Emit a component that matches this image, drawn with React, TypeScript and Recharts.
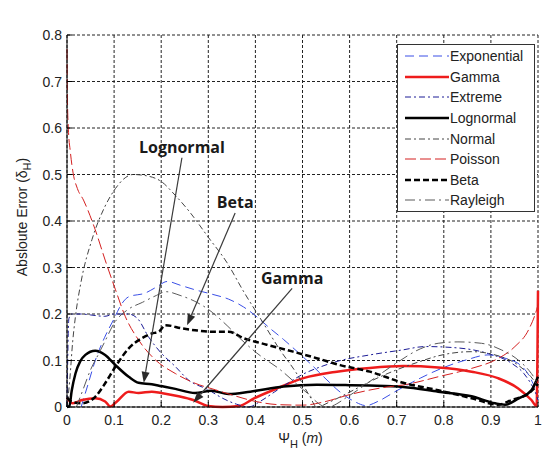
import React from 'react';
import { LineChart, Line, XAxis, YAxis, CartesianGrid, Legend, ReferenceLine, ReferenceDot } from 'recharts';

// ---------- data ----------
const xTicks = [0, 0.1, 0.2, 0.3, 0.4, 0.5, 0.6, 0.7, 0.8, 0.9, 1];
const yTicks = [0, 0.1, 0.2, 0.3, 0.4, 0.5, 0.6, 0.7, 0.8];

const seriesNames = ['Exponential', 'Gamma', 'Extreme', 'Lognormal', 'Normal', 'Poisson', 'Beta', 'Rayleigh'];

const exponential: [number, number][] = [
  [0.03, 0], [0.045, 0.05], [0.06, 0.1], [0.08, 0.15], [0.1, 0.19], [0.115, 0.22], [0.131, 0.237],
  [0.166, 0.245], [0.19, 0.258], [0.213, 0.27], [0.24, 0.262], [0.272, 0.252], [0.31, 0.242],
  [0.343, 0.232], [0.375, 0.215], [0.403, 0.194], [0.43, 0.17], [0.46, 0.145], [0.49, 0.118],
  [0.52, 0.09], [0.55, 0.06], [0.58, 0.032], [0.61, 0.012], [0.635, 0.003], [0.66, 0.012],
  [0.7, 0.035], [0.75, 0.062], [0.8, 0.085], [0.85, 0.102], [0.894, 0.112], [0.93, 0.105],
  [0.966, 0.087], [0.985, 0.06], [0.995, 0.035], [1, 0.015],
];
const gamma: [number, number][] = [
  [0, 0.02], [0.011, 0.008], [0.032, 0.015], [0.06, 0.019], [0.081, 0.012], [0.092, 0.001],
  [0.106, 0.012], [0.131, 0.033], [0.152, 0.03], [0.18, 0.033], [0.2, 0.03], [0.237, 0.023],
  [0.268, 0.015], [0.3, 0.002], [0.33, 0], [0.365, 0.002], [0.396, 0.018], [0.446, 0.04],
  [0.502, 0.062], [0.573, 0.076], [0.643, 0.084], [0.714, 0.088], [0.788, 0.085], [0.859, 0.076],
  [0.915, 0.062], [0.958, 0.04], [0.986, 0.015], [0.997, 0.002], [1, 0.25],
];
const extreme: [number, number][] = [
  [0, 0], [0.004, 0.19], [0.01, 0.2], [0.03, 0.2], [0.05, 0.198], [0.08, 0.195], [0.1, 0.2],
  [0.13, 0.2], [0.15, 0.19], [0.173, 0.151], [0.2, 0.116], [0.23, 0.087], [0.258, 0.058],
  [0.3, 0.037], [0.33, 0.019], [0.36, 0.006], [0.385, 0], [0.41, 0.012], [0.44, 0.032],
  [0.47, 0.052], [0.5, 0.07], [0.54, 0.087], [0.573, 0.098], [0.643, 0.112], [0.714, 0.123],
  [0.76, 0.13], [0.83, 0.127], [0.894, 0.115], [0.944, 0.094], [0.97, 0.072], [0.985, 0.05],
  [0.995, 0.03], [1, 0.015],
];
const lognormal: [number, number][] = [
  [0, 0], [0.005, 0.002], [0.01, 0.035], [0.018, 0.072], [0.028, 0.098], [0.039, 0.112],
  [0.06, 0.121], [0.081, 0.112], [0.103, 0.09], [0.131, 0.065], [0.152, 0.052], [0.18, 0.049],
  [0.2, 0.045], [0.23, 0.039], [0.272, 0.03], [0.307, 0.035], [0.343, 0.028], [0.389, 0.033],
  [0.46, 0.044], [0.53, 0.048], [0.6, 0.047], [0.643, 0.046], [0.714, 0.043], [0.788, 0.033],
  [0.859, 0.023], [0.909, 0.008], [0.93, 0.005], [0.958, 0.018], [0.986, 0.036], [1, 0.065],
];
const normal: [number, number][] = [
  [0, 0], [0.006, 0.06], [0.012, 0.14], [0.018, 0.195], [0.03, 0.27], [0.053, 0.36], [0.08, 0.43],
  [0.103, 0.47], [0.12, 0.49], [0.14, 0.5], [0.17, 0.497], [0.2, 0.485], [0.23, 0.455],
  [0.26, 0.42], [0.3, 0.365], [0.34, 0.31], [0.374, 0.25], [0.417, 0.18], [0.452, 0.123],
  [0.487, 0.073], [0.516, 0.022], [0.53, 0], [0.56, 0.012], [0.6, 0.032], [0.65, 0.058],
  [0.7, 0.08], [0.75, 0.098], [0.788, 0.11], [0.859, 0.119], [0.909, 0.112], [0.958, 0.09],
  [0.985, 0.065], [1, 0.045],
];
const poisson: [number, number][] = [
  [0, 0.77], [0.001, 0.66], [0.003, 0.596], [0.007, 0.55], [0.013, 0.503], [0.022, 0.47],
  [0.035, 0.445], [0.06, 0.381], [0.081, 0.316], [0.103, 0.252], [0.124, 0.194], [0.152, 0.144],
  [0.188, 0.101], [0.23, 0.072], [0.272, 0.051], [0.315, 0.037], [0.35, 0.026], [0.4, 0.012],
  [0.45, 0.005], [0.5, 0.004], [0.55, 0.012], [0.594, 0.025], [0.679, 0.043], [0.718, 0.048],
  [0.788, 0.065], [0.859, 0.083], [0.909, 0.101], [0.951, 0.13], [0.98, 0.166], [0.997, 0.209],
  [1, 0.22],
];
const beta: [number, number][] = [
  [0, 0.02], [0.011, 0.011], [0.032, 0.008], [0.06, 0.022], [0.081, 0.051], [0.103, 0.087],
  [0.131, 0.126], [0.159, 0.148], [0.18, 0.158], [0.195, 0.162], [0.209, 0.176], [0.244, 0.169],
  [0.272, 0.165], [0.307, 0.162], [0.343, 0.162], [0.375, 0.148], [0.424, 0.134], [0.48, 0.119],
  [0.53, 0.105], [0.58, 0.09], [0.643, 0.076], [0.714, 0.052], [0.788, 0.036], [0.859, 0.019],
  [0.915, 0.005], [0.944, 0.015], [0.98, 0.029], [1, 0.05],
];
const rayleigh: [number, number][] = [
  [0.02, 0], [0.035, 0.04], [0.05, 0.08], [0.065, 0.11], [0.08, 0.14], [0.1, 0.18], [0.13, 0.21],
  [0.16, 0.225], [0.19, 0.24], [0.21, 0.248], [0.24, 0.24], [0.27, 0.228], [0.3, 0.21],
  [0.34, 0.175], [0.37, 0.145], [0.403, 0.116], [0.453, 0.08], [0.502, 0.037], [0.552, 0],
  [0.6, 0.025], [0.65, 0.06], [0.7, 0.095], [0.75, 0.125], [0.788, 0.137], [0.83, 0.14],
  [0.88, 0.137], [0.922, 0.123], [0.958, 0.101], [0.986, 0.072], [1, 0.05],
];

const seriesData = [exponential, gamma, extreme, lognormal, normal, poisson, beta, rayleigh];

// annotations (data coordinates)
const annotationLabels = ['Lognormal', 'Beta', 'Gamma'];
const annotationText: [number, number][] = [[0.244, 0.559], [0.357, 0.441], [0.478, 0.277]];
const annotationFrom: [number, number][] = [[0.244, 0.536], [0.357, 0.417], [0.478, 0.255]];
const annotationTo: [number, number][] = [[0.163, 0.052], [0.255, 0.176], [0.268, 0.009]];

// ---------- styles ----------
const FONT = '"Liberation Sans", Arial, Helvetica, sans-serif';
const seriesStyle: Record<string, { color: string; width: number; dash?: string }> = {
  Exponential: { color: '#3a4fe6', width: 1, dash: '9 5' },
  Gamma: { color: '#ee1c1c', width: 2.5 },
  Extreme: { color: '#1c1c96', width: 1, dash: '6 3 2 3' },
  Lognormal: { color: '#000000', width: 2.5 },
  Normal: { color: '#444444', width: 1, dash: '6 3 2 3' },
  Poisson: { color: '#d42020', width: 1, dash: '11 4' },
  Beta: { color: '#000000', width: 2.5, dash: '6 3' },
  Rayleigh: { color: '#5a5a5a', width: 1, dash: '10 4 2 4' },
};

const fmt = (v: number) => String(Math.round(v * 10) / 10);

const BottomTick = (p: any) => (
  <g>
    <line x1={p.x} y1={p.y} x2={p.x} y2={p.y - 5} stroke="#000" />
    <text x={p.x} y={p.y + 18} textAnchor="middle" fontSize={14} fontFamily={FONT} fill="#222">
      {fmt(p.payload.value)}
    </text>
  </g>
);
const LeftTick = (p: any) => (
  <g>
    <line x1={p.x} y1={p.y} x2={p.x + 5} y2={p.y} stroke="#000" />
    <text x={p.x - 5} y={p.y + 5} textAnchor="end" fontSize={14} fontFamily={FONT} fill="#222">
      {fmt(p.payload.value)}
    </text>
  </g>
);
const TopTick = (p: any) => <line x1={p.x} y1={p.y} x2={p.x} y2={p.y + 5} stroke="#000" />;
const RightTick = (p: any) => <line x1={p.x} y1={p.y} x2={p.x - 5} y2={p.y} stroke="#000" />;

const XLabel = (p: any) => {
  const vb = p.viewBox;
  const cx = vb.x + vb.width / 2 - 2;
  return (
    <text x={cx} y={443} textAnchor="middle" fontSize={14} fontFamily={FONT} fill="#222">
      Ψ<tspan fontSize={11} dy={5}>H</tspan>
      <tspan dy={-5}> (</tspan>
      <tspan fontStyle="italic">m</tspan>
      <tspan>)</tspan>
    </text>
  );
};
const YLabel = (p: any) => {
  const vb = p.viewBox;
  const cx = vb.x + 27;
  const cy = vb.y + vb.height / 2 - 4;
  return (
    <text
      x={cx}
      y={cy}
      transform={`rotate(-90 ${cx} ${cy})`}
      textAnchor="middle"
      fontSize={14}
      fontFamily={FONT}
      fill="#222"
    >
      Absloute Error (δ<tspan fontSize={11} dy={4}>H</tspan>
      <tspan dy={-4}>)</tspan>
    </text>
  );
};
const Title = (p: any) => {
  const vb = p.viewBox;
  return (
    <text x={vb.x + vb.width / 2} y={21} textAnchor="middle" fontSize={13} fontFamily={FONT} fill="#222">
      Error
    </text>
  );
};

const Arrow = (p: any) => {
  const { x1, y1, x2, y2 } = p;
  const dx = x2 - x1;
  const dy = y2 - y1;
  const len = Math.sqrt(dx * dx + dy * dy) || 1;
  const ux = dx / len;
  const uy = dy / len;
  const hl = 11;
  const hw = 4;
  const bx = x2 - ux * hl;
  const by = y2 - uy * hl;
  return (
    <g>
      <line x1={x1} y1={y1} x2={bx} y2={by} stroke="#3a3a3a" strokeWidth={1.2} />
      <polygon
        points={`${x2},${y2} ${bx - uy * hw},${by + ux * hw} ${bx + uy * hw},${by - ux * hw}`}
        fill="#2a2a2a"
      />
    </g>
  );
};

const makeTextShape = (label: string) => (p: any) => (
  <text
    x={p.cx}
    y={p.cy}
    textAnchor="middle"
    dominantBaseline="central"
    fontSize={16}
    fontWeight="bold"
    fontFamily='"Open Sans", "Noto Sans", sans-serif'
    fill="#1a1a1a"
  >
    {label}
  </text>
);

const LegendBox = () => (
  <div
    style={{
      width: 138,
      height: 168,
      boxSizing: 'border-box',
      border: '1px solid #333',
      background: '#fff',
      paddingTop: 1,
      fontFamily: FONT,
      fontSize: 14,
      color: '#222',
    }}
  >
    {seriesNames.map((name) => {
      const s = seriesStyle[name];
      return (
        <div key={name} style={{ display: 'flex', alignItems: 'center', height: 20.6, lineHeight: '20px' }}>
          <svg width={52} height={10} style={{ display: 'block' }}>
            <line
              x1={7}
              y1={5}
              x2={51}
              y2={5}
              stroke={s.color}
              strokeWidth={s.width}
              strokeDasharray={s.dash}
            />
          </svg>
          <span>{name}</span>
        </div>
      );
    })}
  </div>
);

export default function App() {
  return (
    <div style={{ position: 'absolute', left: 0, top: 0, width: 559, height: 450, background: '#fff' }}>
      <LineChart width={559} height={450} margin={{ top: 35, right: 21, bottom: 0, left: 0 }}>
        <CartesianGrid stroke="#222" strokeDasharray="3 2" strokeWidth={1} />
        <XAxis
          type="number"
          dataKey="x"
          domain={[0, 1]}
          ticks={xTicks}
          interval={0}
          height={43}
          tickLine={false}
          tickSize={0}
          tickMargin={0}
          axisLine={{ stroke: '#000' }}
          tick={BottomTick}
          label={{ content: XLabel }}
        />
        <XAxis
          xAxisId="top"
          orientation="top"
          type="number"
          dataKey="x"
          domain={[0, 1]}
          ticks={xTicks}
          interval={0}
          height={0}
          tickLine={false}
          tickSize={0}
          tickMargin={0}
          axisLine={{ stroke: '#000' }}
          tick={TopTick}
          label={{ content: Title }}
        />
        <YAxis
          type="number"
          domain={[0, 0.8]}
          ticks={yTicks}
          interval={0}
          width={67}
          tickLine={false}
          tickSize={0}
          tickMargin={0}
          axisLine={{ stroke: '#000' }}
          tick={LeftTick}
          label={{ content: YLabel }}
        />
        <YAxis
          yAxisId="right"
          orientation="right"
          type="number"
          domain={[0, 0.8]}
          ticks={yTicks}
          interval={0}
          width={0}
          tickLine={false}
          tickSize={0}
          tickMargin={0}
          axisLine={{ stroke: '#000' }}
          tick={RightTick}
        />
        {seriesNames.map((name, i) => {
          const s = seriesStyle[name];
          return (
            <Line
              key={name}
              name={name}
              data={seriesData[i].map(([x, y]) => ({ x, y }))}
              dataKey="y"
              type="monotone"
              stroke={s.color}
              strokeWidth={s.width}
              strokeDasharray={s.dash}
              dot={false}
              activeDot={false}
              isAnimationActive={false}
            />
          );
        })}
        {annotationLabels.map((label, i) => (
          <ReferenceLine
            key={'arrow' + label}
            segment={[
              { x: annotationFrom[i][0], y: annotationFrom[i][1] },
              { x: annotationTo[i][0], y: annotationTo[i][1] },
            ]}
            shape={Arrow}
            ifOverflow="visible"
          />
        ))}
        {annotationLabels.map((label, i) => (
          <ReferenceDot
            key={'text' + label}
            x={annotationText[i][0]}
            y={annotationText[i][1]}
            r={0}
            shape={makeTextShape(label)}
            ifOverflow="visible"
          />
        ))}
        <Legend
          layout="vertical"
          align="center"
          verticalAlign="middle"
          wrapperStyle={{ left: 397, top: 44, width: 138, height: 168 }}
          content={LegendBox}
        />
      </LineChart>
    </div>
  );
}
